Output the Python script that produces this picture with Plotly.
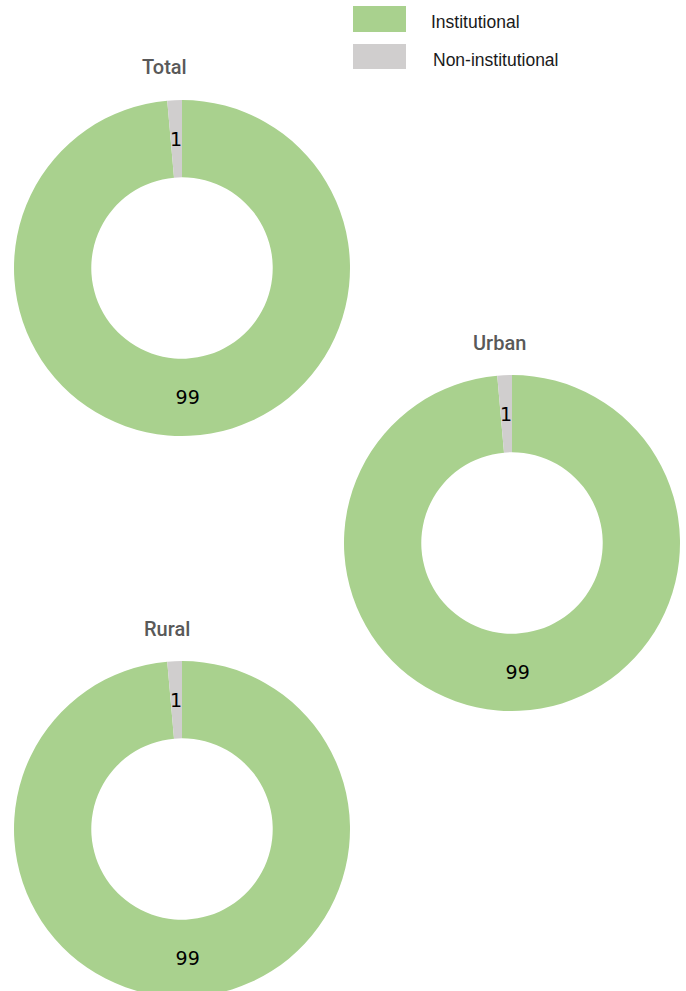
import math
import plotly.graph_objects as go

# ---- data ----
categories = ["Institutional", "Non-institutional"]
groups = ["Total", "Urban", "Rural"]
total_vals = [98.6, 1.4]
urban_vals = [98.6, 1.4]
rural_vals = [98.6, 1.4]
colors = ["#a9d18e", "#d0cece"]

W, H = 686, 1000
HOLE = 0.54

def dom(cx, cy, r):
    return dict(x=[(cx - r) / W, (cx + r) / W],
                y=[1 - (cy + r) / H, 1 - (cy - r) / H])

layout_pos = {
    "Total": (182, 268, 168, 164.5, 67),
    "Urban": (512, 543, 168, 499, 343),
    "Rural": (182, 829, 168, 166.5, 629),
}
series = {"Total": total_vals, "Urban": urban_vals, "Rural": rural_vals}
num_font = dict(family="DejaVu Sans", size=19, color="#000000")

fig = go.Figure()
annotations = []
for g in groups:
    cx, cy, r, tx, ty = layout_pos[g]
    vals = series[g]
    fig.add_trace(go.Pie(
        labels=categories,
        values=vals,
        hole=HOLE,
        sort=False,
        direction="clockwise",
        rotation=0,
        marker=dict(colors=colors, line=dict(width=0)),
        texttemplate="%{value:.0f}",
        textposition=["inside", "none"],
        insidetextorientation="horizontal",
        textfont=num_font,
        domain=dom(cx, cy, r),
        hoverinfo="label+value",
        showlegend=False,
    ))
    # label for the thin slice, placed at its mid-angle, mid-ring
    tot = sum(vals)
    mid = (sum(vals[:1]) + vals[1] / 2) / tot * 2 * math.pi
    rm = r * (1 + HOLE) / 2
    px = cx + rm * math.sin(mid)
    py = cy - rm * math.cos(mid)
    annotations.append(dict(
        x=px / W, y=1 - py / H, xref="paper", yref="paper",
        text=f"{vals[1]:.0f}", showarrow=False, xanchor="center", yanchor="middle",
        font=num_font,
    ))
    annotations.append(dict(
        x=tx / W, y=1 - ty / H, xref="paper", yref="paper",
        text=g, showarrow=False, xanchor="center", yanchor="middle",
        font=dict(family="Roboto", size=20, color="#595959", weight=500),
    ))

# legend drawn as shapes + text
shapes = []
leg_rows = [(6, 32, 429, 22), (44, 69, 431, 60)]
for cat, col, (y0, y1, lx, ly) in zip(categories, colors, leg_rows):
    shapes.append(dict(type="rect", xref="paper", yref="paper",
                       x0=353 / W, x1=406 / W, y0=1 - y1 / H, y1=1 - y0 / H,
                       fillcolor=col, line=dict(width=0)))
    annotations.append(dict(
        x=lx / W, y=1 - ly / H, xref="paper", yref="paper",
        text=cat, showarrow=False, xanchor="left", yanchor="middle",
        font=dict(family="Liberation Sans", size=17.5, color="#1a1a1a"),
    ))

fig.update_layout(
    width=W, height=H,
    margin=dict(l=0, r=0, t=0, b=0),
    paper_bgcolor="white", plot_bgcolor="white",
    annotations=annotations,
    shapes=shapes,
)

fig.write_html("out.html", config={"displayModeBar": False},
               post_script="document.body.style.margin='0';document.body.style.overflow='hidden';")
